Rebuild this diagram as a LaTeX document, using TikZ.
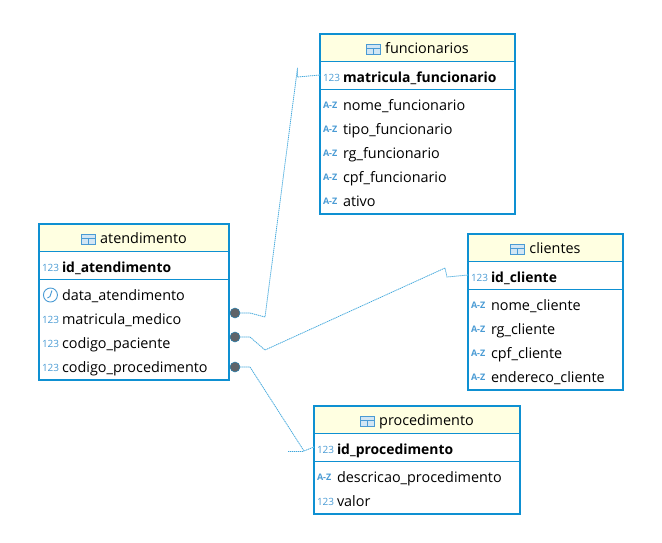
\documentclass[tikz,border=0pt]{standalone}
\usepackage{fontspec}
\setmainfont{Open Sans}
\usetikzlibrary{positioning}
\definecolor{tblblue}{HTML}{0E90D2}
\definecolor{tagblue}{HTML}{4A9BD4}
\definecolor{headfill}{HTML}{FFFFE1}
\definecolor{fkline}{HTML}{3FA7DC}
\definecolor{dotgray}{HTML}{5F6368}
\newcommand{\tblicon}{\tikz[baseline=-0.5pt,line width=1pt,draw=tagblue]{\draw[fill=tagblue!25] (0,-1pt) rectangle (14pt,9pt); \draw (0,5pt) -- (14pt,5pt) (7pt,-1pt) -- (7pt,5pt);}\hspace{4pt}}
\newcommand{\tagnum}{\makebox[20pt][l]{\raisebox{1pt}{\color{tagblue}\fontsize{10}{10}\mdseries\selectfont 123}}}
\newcommand{\tagtxt}{\makebox[20pt][l]{\raisebox{2pt}{\color{tagblue}\fontsize{9}{10}\selectfont\bfseries A-Z}}}
\newcommand{\tagclock}{\makebox[20pt][l]{\hspace*{1pt}\tikz[baseline=-0.5pt,line width=0.9pt,draw=tagblue]{\draw (0,4.5pt) circle (7pt); \draw (1.5pt,9pt) -- (-0.5pt,3pt) -- (-3pt,1.5pt);}}}
\begin{document}
\begin{tikzpicture}[
  x=1pt, y=-1pt, node distance=0pt,
  basecell/.style={inner xsep=0pt, inner ysep=0pt, outer sep=0pt, font=\fontsize{14.4}{16}\selectfont},
  head/.style={basecell, anchor=north west, fill=headfill, align=center, minimum height=27pt, text height=14pt, text depth=2pt, text width=#1},
  keyrow/.style={basecell, align=left, minimum height=28pt, text height=16pt, text depth=2pt, text width=#1, font=\fontsize{13.9}{16}\selectfont\bfseries},
  colrow/.style={basecell, align=left, minimum height=24pt, text height=12pt, text depth=2pt, text width=#1},
  tblframe/.style={draw=tblblue, line width=2pt},
  tblsep/.style={draw=tblblue, line width=0.9pt},
  fkdot/.style={circle, fill=dotgray, draw=tblblue!70!dotgray, line width=0.5pt, inner sep=0pt, minimum size=10pt},
  fk/.style={draw=fkline, line width=0.7pt, dash pattern=on 1pt off 1pt, preaction={draw=fkline!35, line width=0.7pt, solid}}
]
\useasboundingbox (0,0) rectangle (662,542);
% atendimento
\node[head=190pt] (at_head) at (39,224) {\tblicon atendimento};
\node[keyrow=190pt, below=of at_head] (at_key) {\hspace*{3pt}\tagnum id\_atendimento};
\node[colrow=190pt, below=4pt of at_key] (at_data) {\hspace*{3pt}\tagclock data\_atendimento};
\node[colrow=190pt, below=of at_data] (at_mat) {\hspace*{3pt}\tagnum matricula\_medico};
\node[colrow=190pt, below=of at_mat] (at_pac) {\hspace*{3pt}\tagnum codigo\_paciente};
\node[colrow=190pt, below=of at_pac] (at_proc) {\hspace*{3pt}\tagnum codigo\_procedimento};
\draw[tblsep] (at_head.south west) -- (at_head.south east);
\draw[tblsep] (at_key.south west) -- (at_key.south east);
\draw[tblframe] (at_head.north west) rectangle ([yshift=-1pt]at_proc.south east);
% funcionarios
\node[head=195pt] (fn_head) at (320,34) {\tblicon funcionarios};
\node[keyrow=195pt, below=of fn_head] (fn_key) {\hspace*{3pt}\tagnum matricula\_funcionario};
\node[colrow=195pt, below=4pt of fn_key] (fn_nome) {\hspace*{3pt}\tagtxt nome\_funcionario};
\node[colrow=195pt, below=of fn_nome] (fn_tipo) {\hspace*{3pt}\tagtxt tipo\_funcionario};
\node[colrow=195pt, below=of fn_tipo] (fn_rg) {\hspace*{3pt}\tagtxt rg\_funcionario};
\node[colrow=195pt, below=of fn_rg] (fn_cpf) {\hspace*{3pt}\tagtxt cpf\_funcionario};
\node[colrow=195pt, below=of fn_cpf] (fn_ativo) {\hspace*{3pt}\tagtxt ativo};
\draw[tblsep] (fn_head.south west) -- (fn_head.south east);
\draw[tblsep] (fn_key.south west) -- (fn_key.south east);
\draw[tblframe] (fn_head.north west) rectangle ([yshift=-1pt]fn_ativo.south east);
% clientes
\node[head=155pt] (cl_head) at (468,234) {\tblicon clientes};
\node[keyrow=155pt, below=of cl_head] (cl_key) {\hspace*{3pt}\tagnum id\_cliente};
\node[colrow=155pt, below=4pt of cl_key] (cl_nome) {\hspace*{3pt}\tagtxt nome\_cliente};
\node[colrow=155pt, below=of cl_nome] (cl_rg) {\hspace*{3pt}\tagtxt rg\_cliente};
\node[colrow=155pt, below=of cl_rg] (cl_cpf) {\hspace*{3pt}\tagtxt cpf\_cliente};
\node[colrow=155pt, below=of cl_cpf] (cl_end) {\hspace*{3pt}\tagtxt endereco\_cliente};
\draw[tblsep] (cl_head.south west) -- (cl_head.south east);
\draw[tblsep] (cl_key.south west) -- (cl_key.south east);
\draw[tblframe] (cl_head.north west) rectangle ([yshift=-1pt]cl_end.south east);
% procedimento
\node[head=206pt] (pr_head) at (314,406) {\tblicon procedimento};
\node[keyrow=206pt, below=of pr_head] (pr_key) {\hspace*{3pt}\tagnum id\_procedimento};
\node[colrow=206pt, below=4pt of pr_key] (pr_desc) {\hspace*{3pt}\tagtxt descricao\_procedimento};
\node[colrow=206pt, below=of pr_desc] (pr_valor) {\hspace*{3pt}\tagnum valor};
\draw[tblsep] (pr_head.south west) -- (pr_head.south east);
\draw[tblsep] (pr_key.south west) -- (pr_key.south east);
\draw[tblframe] (pr_head.north west) rectangle ([yshift=-1pt]pr_valor.south east);
% ligacoes
\node[fkdot] (dot_mat) at (235,313) {};
\node[fkdot] (dot_pac) at (235,337) {};
\node[fkdot] (dot_proc) at (235,367) {};
\coordinate (fn_stub) at (297.5,77);
\coordinate (cl_stub) at (447,277);
\coordinate (pr_stub) at (288,451);
\draw[fk] (dot_mat.east) -- (250,313) -- (265,317) -- (297.5,68) -- (fn_stub) -- (fn_key.west);
\draw[fk] (dot_pac.east) -- (250,337) -- (265,350) -- (445,268) -- (cl_stub) -- (cl_key.west);
\draw[fk] (dot_proc.east) -- (250,367) -- (304,451) -- (pr_key.west);
\draw[fk] (pr_stub) -- (304,451);
\end{tikzpicture}
\end{document}
